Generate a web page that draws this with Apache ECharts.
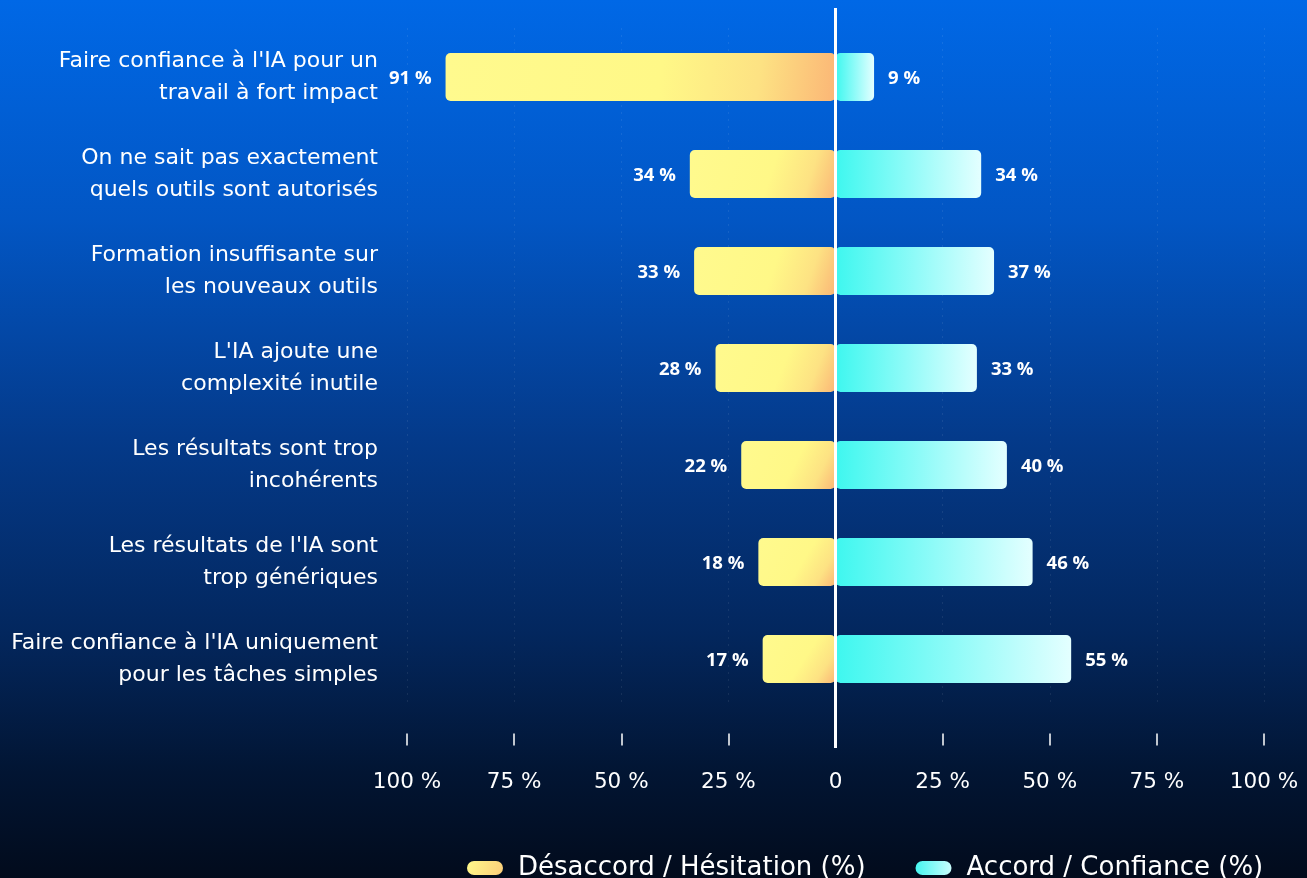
<!DOCTYPE html>
<html>
<head>
<meta charset="utf-8">
<script src="https://cdn.jsdelivr.net/npm/echarts@6/dist/echarts.min.js"></script>
<style>
  html, body { margin: 0; padding: 0; width: 1307px; height: 878px; overflow: hidden; }
  body { background: linear-gradient(180deg, #0068e6 0%, #0256c4 25%, #043a8a 50%, #03275e 72%, #021533 88%, #020b1c 100%); }
  #chart { width: 1307px; height: 878px; }
</style>
</head>
<body>
<div id="chart"></div>
<script>
// Obstacles to adopting AI: share of respondents disagreeing vs agreeing
const categories = [
  "Faire confiance à l'IA pour un\ntravail à fort impact",
  "On ne sait pas exactement\nquels outils sont autorisés",
  "Formation insuffisante sur\nles nouveaux outils",
  "L'IA ajoute une\ncomplexité inutile",
  "Les résultats sont trop\nincohérents",
  "Les résultats de l'IA sont\ntrop génériques",
  "Faire confiance à l'IA uniquement\npour les tâches simples"
];
const desaccord = [91, 34, 33, 28, 22, 18, 17];
const accord = [9, 34, 37, 33, 40, 46, 55];
const seriesNames = ["Désaccord / Hésitation (%)", "Accord / Confiance (%)"];

const FONT = "'DejaVu Sans', 'Noto Sans', sans-serif";
const BOLD_FONT = "'Open Sans', 'Noto Sans', sans-serif";
const PILL = 'path://M7,0 H29 A7,7 0 0 1 29,14 H7 A7,7 0 0 1 7,0 Z';

const yellowFill = new echarts.graphic.LinearGradient(0, 0, 1, 1, [
  { offset: 0, color: '#fffa8e' },
  { offset: 0.55, color: '#fff887' },
  { offset: 0.8, color: '#fde283' },
  { offset: 1, color: '#fbb676' }
]);
const cyanFill = new echarts.graphic.LinearGradient(0, 0, 1, 0, [
  { offset: 0, color: '#3ef7ef' },
  { offset: 0.5, color: '#8ffbf8' },
  { offset: 1, color: '#e4ffff' }
]);

const chart = echarts.init(document.getElementById('chart'), null, { renderer: 'canvas' });

const option = {
  backgroundColor: 'transparent',
  animation: false,
  grid: { left: 407, right: 43, top: 28.5, bottom: 170.5, containLabel: false },
  legend: {
    bottom: -8,
    left: 462,
    itemWidth: 36,
    itemHeight: 14,
    itemGap: 50,
    textStyle: { color: '#ffffff', fontSize: 26, fontFamily: FONT, padding: [0, 0, 0, 10] },
    data: [
      {
        name: seriesNames[0], icon: PILL,
        itemStyle: { color: new echarts.graphic.LinearGradient(0, 0, 1, 1, [
          { offset: 0, color: '#fff98a' }, { offset: 1, color: '#fbcd7a' }
        ]) }
      },
      {
        name: seriesNames[1], icon: PILL,
        itemStyle: { color: new echarts.graphic.LinearGradient(0, 0, 1, 0, [
          { offset: 0, color: '#45f6f0' }, { offset: 1, color: '#c9fdfd' }
        ]) }
      }
    ]
  },
  xAxis: {
    type: 'value',
    min: -100,
    max: 100,
    interval: 25,
    offset: 26,
    axisLine: { show: false },
    axisTick: { show: true, length: 12, lineStyle: { color: '#ffffff', width: 1.5 } },
    axisLabel: {
      color: '#ffffff',
      fontSize: 21.5,
      fontFamily: FONT,
      margin: 38,
      formatter: v => (v === 0 ? '0' : Math.abs(v) + ' %')
    },
    splitLine: { show: true, lineStyle: { color: 'rgba(255,255,255,0.16)', type: [1, 6], width: 1 } }
  },
  yAxis: {
    type: 'category',
    inverse: true,
    data: categories,
    axisLine: { show: false },
    axisTick: { show: false },
    axisLabel: {
      color: '#ffffff',
      fontSize: 22,
      fontFamily: FONT,
      lineHeight: 32,
      align: 'right',
      margin: 29
    }
  },
  series: [
    {
      name: seriesNames[0],
      type: 'bar',
      stack: 'total',
      barWidth: 48,
      data: desaccord.map(v => -v),
      itemStyle: { color: yellowFill, borderRadius: 5 },
      label: {
        show: true,
        position: 'left',
        distance: 14,
        color: '#ffffff',
        fontSize: 18.5,
        fontWeight: 'bold',
        fontFamily: BOLD_FONT,
        offset: [0, 2],
        formatter: p => Math.abs(p.value) + ' %'
      }
    },
    {
      name: seriesNames[1],
      type: 'bar',
      stack: 'total',
      barWidth: 48,
      data: accord,
      itemStyle: { color: cyanFill, borderRadius: 5 },
      label: {
        show: true,
        position: 'right',
        distance: 14,
        color: '#ffffff',
        fontSize: 18.5,
        fontWeight: 'bold',
        fontFamily: BOLD_FONT,
        offset: [0, 2],
        formatter: p => p.value + ' %'
      }
    }
  ]
};

chart.setOption(option);

// Vertical zero divider, placed from the x scale
const zeroX = chart.convertToPixel({ xAxisIndex: 0 }, 0);
chart.setOption({
  graphic: [{
    type: 'line',
    z: 100,
    shape: { x1: zeroX, y1: 8, x2: zeroX, y2: 748 },
    style: { stroke: '#ffffff', lineWidth: 3 }
  }]
});
</script>
</body>
</html>
